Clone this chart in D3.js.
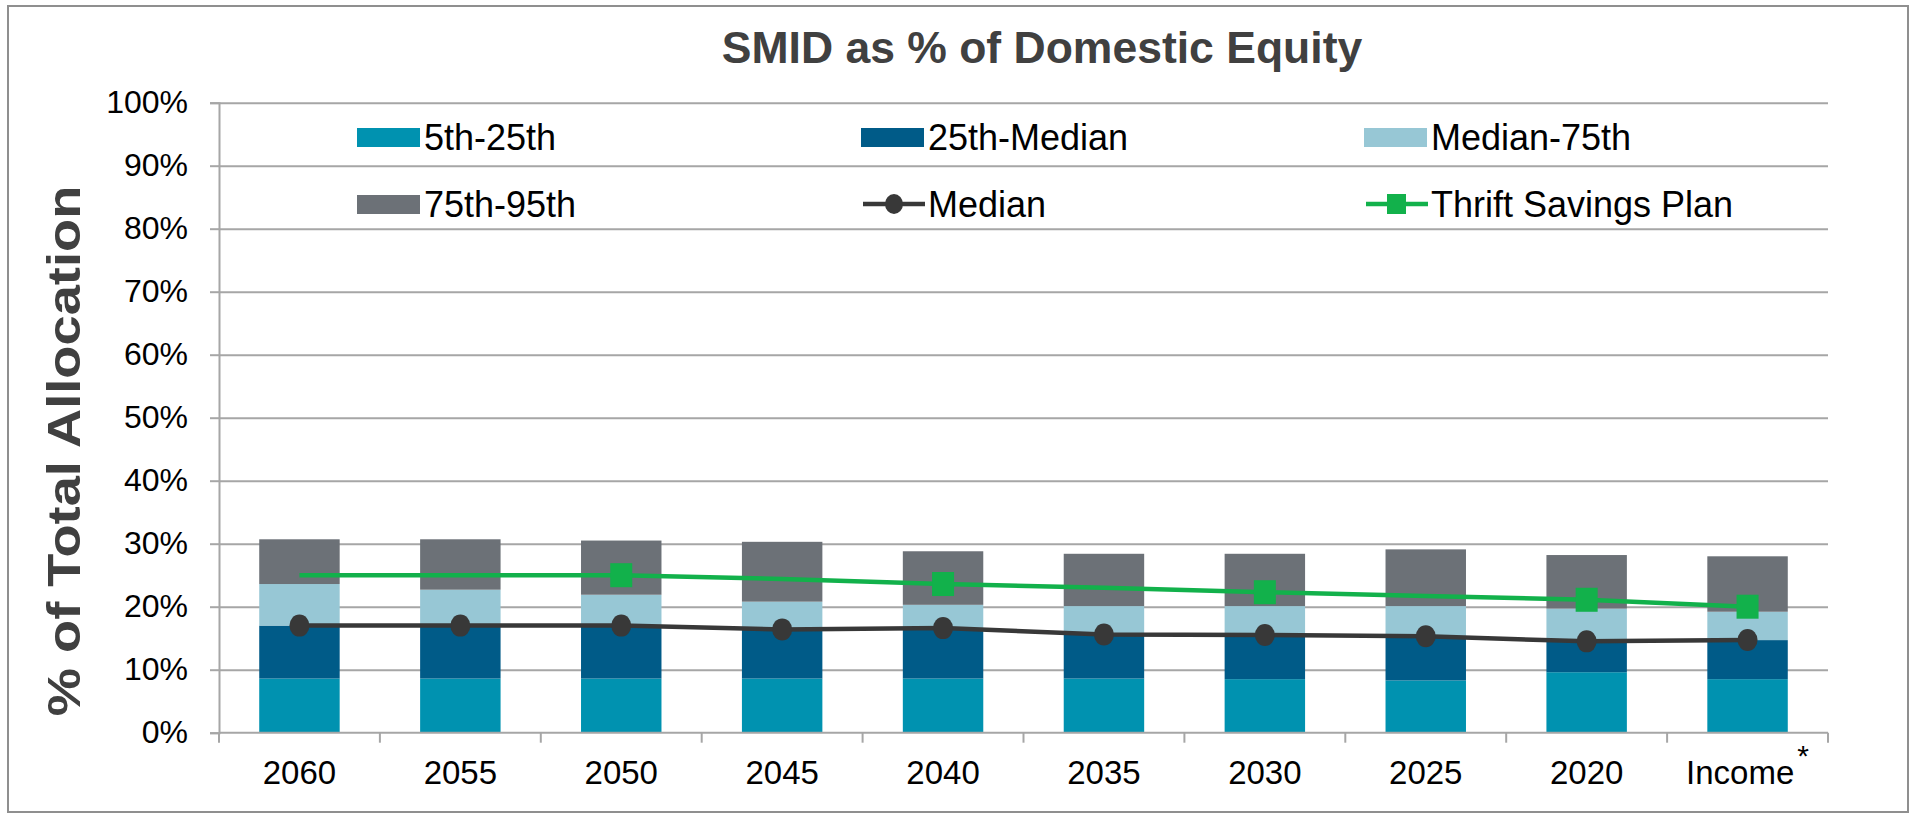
<!DOCTYPE html>
<html>
<head>
<meta charset="utf-8">
<script src="https://cdn.jsdelivr.net/npm/d3@7"></script>
<style>
  html, body { margin: 0; padding: 0; background: #fff; }
  svg { display: block; font-family: "Liberation Sans", Arial, sans-serif; }
</style>
</head>
<body>
<div id="chart"></div>
<script>
// categories along the x axis
const categories = ['2060', '2055', '2050', '2045', '2040', '2035', '2030', '2025', '2020', 'Income']

// stacked band heights, in %
const band5to25 = [8.6, 8.6, 8.6, 8.6, 8.6, 8.6, 8.5, 8.3, 9.6, 8.5]
const band25toMedian = [8.4, 8.4, 8.4, 7.8, 8.0, 7.0, 7.0, 7.0, 4.9, 6.2]
const bandMedianTo75 = [6.6, 5.7, 4.9, 4.4, 3.7, 4.5, 4.6, 4.8, 5.2, 4.5]
const band75to95 = [7.1, 8.0, 8.6, 9.5, 8.5, 8.3, 8.3, 9.0, 8.5, 8.8]

// line series, in %
const median = [17.0, 17.0, 17.0, 16.4, 16.6, 15.6, 15.5, 15.3, 14.5, 14.7]
const tsp = [25.0, 25.0, 25.0, 24.4, 23.6, 23.0, 22.3, 21.7, 21.1, 20.0]
const tspMarked = ['2050', '2040', '2030', '2020', 'Income'] // points that show a marker

const yTicks = [0, 10, 20, 30, 40, 50, 60, 70, 80, 90, 100]

const bandNames = ['5th-25th', '25th-Median', 'Median-75th', '75th-95th']
const bandColors = ['#0092b0', '#005b88', '#97c7d5', '#6c7177']
const medianColor = '#383838'
const tspColor = '#12b14b'

const W = 1915, H = 815
const plotLeft = 219, plotRight = 1828, plotTop = 102.7, plotBottom = 732.7

const svg = d3.select('#chart')
    .append('svg')
        .attr('width', W)
        .attr('height', H)

// outer frame
svg.append('rect')
    .attr('x', 8).attr('y', 6)
    .attr('width', 1900).attr('height', 806)
    .attr('fill', '#fff')
    .attr('stroke', '#8f8f8f')
    .attr('stroke-width', 2)

const x = d3.scaleBand()
    .domain(categories)
    .range([plotLeft, plotRight])
    .paddingInner(0.5)
    .paddingOuter(0.25)

const y = d3.scaleLinear()
    .domain([0, 100])
    .range([plotBottom, plotTop])

// gridlines
svg.append('g')
    .attr('transform', `translate(${plotLeft},0)`)
    .call(d3.axisLeft(y).tickValues(yTicks.slice(1)).tickSize(-(plotRight - plotLeft)).tickFormat(''))
    .call(g => g.select('.domain').remove())
    .selectAll('line')
        .attr('stroke', '#a6a6a6')
        .attr('stroke-width', 2)

// y axis with tick labels
const yAxis = svg.append('g')
    .attr('transform', `translate(${plotLeft},0)`)
    .call(d3.axisLeft(y).tickValues(yTicks).tickSize(9).tickPadding(22).tickFormat(d => d + '%'))
yAxis.select('.domain').attr('stroke', '#a6a6a6').attr('stroke-width', 2)
yAxis.selectAll('line').attr('stroke', '#a6a6a6').attr('stroke-width', 2)
yAxis.selectAll('text')
    .attr('font-size', 32)
    .attr('fill', '#000')
    .attr('font-family', '"Liberation Sans", Arial, sans-serif')

// stacked bars
const rows = categories.map((c, i) => ({
    cat: c,
    b0: band5to25[i], b1: band25toMedian[i], b2: bandMedianTo75[i], b3: band75to95[i]
}))
const stacked = d3.stack().keys(['b0', 'b1', 'b2', 'b3'])(rows)

svg.append('g')
    .selectAll('g')
    .data(stacked)
    .enter()
    .append('g')
        .attr('fill', (d, i) => bandColors[i])
    .selectAll('rect')
    .data(d => d)
    .enter()
    .append('rect')
        .attr('x', d => x(d.data.cat))
        .attr('y', d => y(d[1]))
        .attr('width', x.bandwidth())
        .attr('height', d => y(d[0]) - y(d[1]))

// x axis line and boundary ticks
const gap = x.step() - x.bandwidth()
const bounds = categories.map(c => x(c) - gap / 2).concat([plotRight])
svg.append('line')
    .attr('x1', plotLeft).attr('x2', plotRight)
    .attr('y1', y(0)).attr('y2', y(0))
    .attr('stroke', '#a6a6a6').attr('stroke-width', 2)
svg.append('g')
    .selectAll('line')
    .data(bounds)
    .enter()
    .append('line')
        .attr('x1', d => d).attr('x2', d => d)
        .attr('y1', y(0)).attr('y2', y(0) + 10)
        .attr('stroke', '#a6a6a6').attr('stroke-width', 2)

// x labels
const xAxis = svg.append('g')
    .attr('transform', `translate(0,${plotBottom})`)
    .call(d3.axisBottom(x).tickSize(0).tickPadding(28))
xAxis.select('.domain').remove()
xAxis.selectAll('text')
    .attr('font-size', 33)
    .attr('fill', '#000')
    .attr('font-family', '"Liberation Sans", Arial, sans-serif')
xAxis.selectAll('.tick')
    .filter(d => d === 'Income')
    .select('text')
    .append('tspan')
        .attr('dx', 3)
        .attr('dy', '-0.6em')
        .attr('font-size', 30)
        .text('*')

// median line
const line = (vals) => d3.line()
    .x((d, i) => x(categories[i]) + x.bandwidth() / 2)
    .y(d => y(d))(vals)

svg.append('path')
    .attr('d', line(median))
    .attr('fill', 'none')
    .attr('stroke', medianColor)
    .attr('stroke-width', 4.5)

svg.append('g')
    .selectAll('ellipse')
    .data(median)
    .enter()
    .append('ellipse')
        .attr('cx', (d, i) => x(categories[i]) + x.bandwidth() / 2)
        .attr('cy', d => y(d))
        .attr('rx', 10)
        .attr('ry', 11)
        .attr('fill', medianColor)

// thrift savings plan line
svg.append('path')
    .attr('d', line(tsp))
    .attr('fill', 'none')
    .attr('stroke', tspColor)
    .attr('stroke-width', 4.5)

svg.append('g')
    .selectAll('rect')
    .data(tsp.map((v, i) => ({ cat: categories[i], v })).filter(d => tspMarked.includes(d.cat)))
    .enter()
    .append('rect')
        .attr('x', d => x(d.cat) + x.bandwidth() / 2 - 11)
        .attr('y', d => y(d.v) - 12)
        .attr('width', 22)
        .attr('height', 24)
        .attr('fill', tspColor)

// title
svg.append('text')
    .attr('x', 1042)
    .attr('y', 63)
    .attr('text-anchor', 'middle')
    .attr('font-size', 44.5)
    .attr('font-weight', 'bold')
    .attr('fill', '#404040')
    .text('SMID as % of Domestic Equity')

// y axis title (stretched along its length like the source)
svg.append('text')
    .attr('transform', 'translate(80,451) rotate(-90) scale(1.18,1)')
    .attr('text-anchor', 'middle')
    .attr('font-size', 46)
    .attr('font-weight', 'bold')
    .attr('fill', '#404040')
    .text('% of Total Allocation')

// legend
const legendItems = [
    { name: bandNames[0], type: 'box', color: bandColors[0] },
    { name: bandNames[1], type: 'box', color: bandColors[1] },
    { name: bandNames[2], type: 'box', color: bandColors[2] },
    { name: bandNames[3], type: 'box', color: bandColors[3] },
    { name: 'Median', type: 'dot', color: medianColor },
    { name: 'Thrift Savings Plan', type: 'square', color: tspColor }
]
const colX = [357, 861, 1364]
const rowY = [137, 204]

const leg = svg.append('g')
    .selectAll('g')
    .data(legendItems)
    .enter()
    .append('g')
        .attr('transform', (d, i) => `translate(${colX[i % 3]},${rowY[Math.floor(i / 3)]})`)

leg.filter(d => d.type === 'box')
    .append('rect')
        .attr('x', 0).attr('y', -9)
        .attr('width', 63).attr('height', 19)
        .attr('fill', d => d.color)

leg.filter(d => d.type !== 'box')
    .append('line')
        .attr('x1', 2).attr('x2', 64)
        .attr('y1', 0).attr('y2', 0)
        .attr('stroke', d => d.color)
        .attr('stroke-width', 4.5)

leg.filter(d => d.type === 'dot')
    .append('ellipse')
        .attr('cx', 33).attr('cy', 0).attr('rx', 9).attr('ry', 10)
        .attr('fill', d => d.color)

leg.filter(d => d.type === 'square')
    .append('rect')
        .attr('x', 23).attr('y', -10)
        .attr('width', 19).attr('height', 20)
        .attr('fill', d => d.color)

leg.append('text')
    .attr('x', 67)
    .attr('y', 0)
    .attr('dy', '0.36em')
    .attr('font-size', 36)
    .attr('fill', '#000')
    .text(d => d.name)
</script>
</body>
</html>
